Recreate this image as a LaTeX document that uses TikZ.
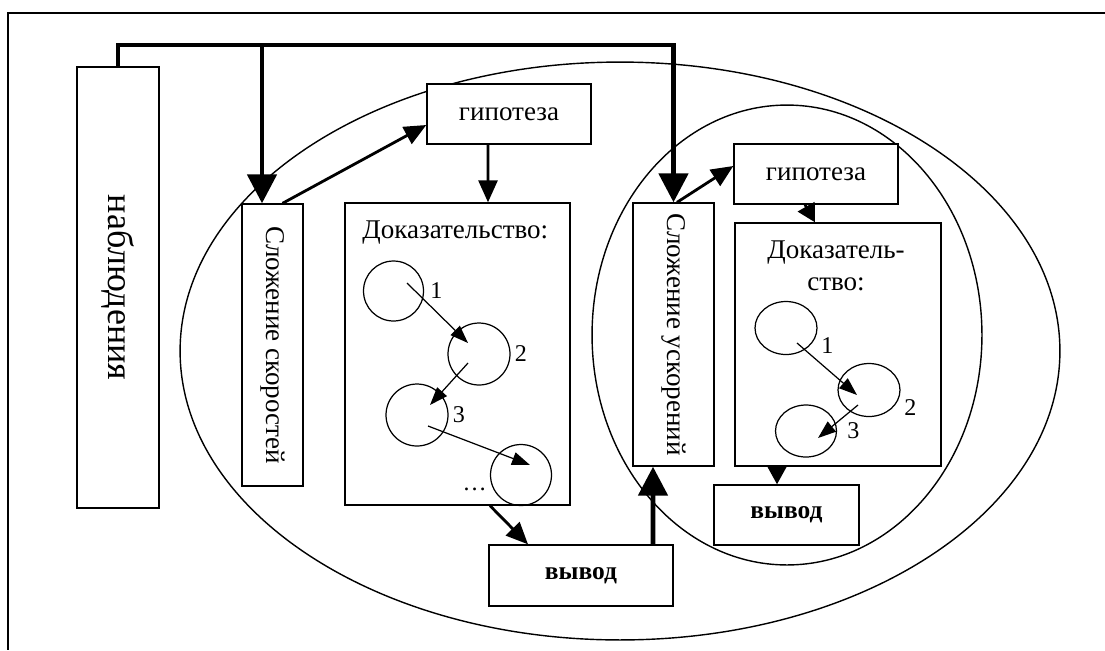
\documentclass[tikz,border=0pt]{standalone}
\usepackage{fontspec}
\setmainfont{Liberation Serif}
\usepackage{graphicx}
\usetikzlibrary{arrows.meta,positioning,calc,shapes.geometric}
\tikzset{
  box/.style={draw,fill=white,line width=0.8pt,inner sep=0pt,font=\fontsize{15.4}{18.2}\selectfont},
  res/.style={box,font=\fontsize{14.5}{16}\selectfont\bfseries},
  txt/.style={inner sep=0pt,font=\fontsize{15.4}{18.2}\selectfont},
  bub/.style={ellipse,draw,line width=0.7pt,inner sep=0pt,minimum width=1.2cm,minimum height=1.2cm},
  num/.style={inner sep=0pt,font=\fontsize{13.7}{16}\selectfont},
  arr/.style={line width=0.7pt,-{Triangle[length=0.36cm,width=0.26cm]}},
  sarr/.style={line width=1.6pt,-{Triangle[length=0.36cm,width=0.38cm]}},
  marr/.style={line width=1.6pt,-{Triangle[length=0.44cm,width=0.38cm]}},
  tarr/.style={line width=2.8pt,-{Triangle[length=0.58cm,width=0.58cm]}},
  ring/.style={line width=0.8pt},
}
\begin{document}
\begin{tikzpicture}[x=0.02cm,y=-0.02cm]
\useasboundingbox (0,0) rectangle (1105,650);
\draw[line width=1.1pt] (1105,13) -| (8,650);
% two nested ellipses behind the boxes
\draw[ring] (620,351) ellipse [x radius=8.8cm,y radius=5.78cm];
\draw[ring] (787,335) ellipse [x radius=3.9cm,y radius=4.6cm];

\node[box,minimum width=1.64cm,minimum height=8.82cm,font=\fontsize{20.5}{24}\selectfont] (obs) at (118,287.5) {\rotatebox{-90}{наблюдения}};
\node[box,minimum width=1.22cm,minimum height=5.64cm] (sumv) at (272.5,345) {\rotatebox{-90}{Сложение скоростей}};
\node[box,minimum width=3.28cm,minimum height=1.2cm] (hyp1) at (509,114) {гипотеза};
\node[box,minimum width=4.5cm,minimum height=6.04cm] (proof1) at (457.5,354) {};
\node[txt,anchor=base west] (proof1t) at (362,238) {Доказательство:};
\node[res,minimum width=3.68cm,minimum height=1.22cm] (concl1) at (581,575.5) {вывод};

\node[box,minimum width=1.62cm,minimum height=5.26cm] (suma) at (673.5,334.5) {\rotatebox{-90}{Сложение ускорений}};
\node[box,minimum width=3.28cm,minimum height=1.2cm] (hyp2) at (816,174) {гипотеза};
\node[box,minimum width=4.12cm,minimum height=4.86cm] (proof2) at (838,344.5) {};
\node[txt,align=center] (proof2t) at (836,266) {Доказатель-\\ство:};
\node[res,minimum width=2.9cm,minimum height=1.2cm] (concl2) at (786.5,515) {вывод};

% steps of the first proof
\node[bub,label={[num,label distance=0.12cm]0:1}] (c11) at (393.5,291) {};
\node[bub,minimum size=1.24cm,label={[num,label distance=0.08cm]0:2}] (c12) at (479,354) {};
\node[bub,minimum size=1.24cm,label={[num,label distance=0.08cm]0:3}] (c13) at (417,415) {};
\node[bub,minimum size=1.22cm,label={[num,label distance=0.1cm]200:…}] (c14) at (521,475) {};
\draw[arr] ($(c11)+(13.5,-8)$) -- ($(c12)+(-11,-11)$);
\draw[arr] ($(c12)+(-11,9)$) -- ($(c13)+(13,-10)$);
\draw[arr] ($(c13)+(11,11)$) -- ($(c14)+(9,-10)$);

% steps of the second proof
\node[bub,minimum width=1.24cm,minimum height=1.06cm,label={[num,label distance=0.1cm]-15:1}] (c21) at (786,328) {};
\node[bub,minimum width=1.24cm,minimum height=1.06cm,label={[num,label distance=0.1cm]-15:2}] (c22) at (869,390) {};
\node[bub,minimum width=1.22cm,minimum height=1.04cm,label={[num,label distance=0.2cm]0:3}] (c23) at (806,431) {};
\draw[arr] ($(c21)+(11,15)$) -- ($(c22)+(-12,5)$);
\draw[arr] ($(c22)+(-11,15)$) -- ($(c23)+(12,7)$);

% bus from observations
\coordinate (busL) at (262,45);
\coordinate (busR) at (673.5,45);
\draw[tarr] (obs.north) |- (busR) -- (suma.north);
\draw[tarr] (busL) -- (busL |- sumv.north);

\draw[marr] ([xshift=0.2cm]sumv.north) -- ([yshift=-0.22cm]hyp1.west);
\draw[marr] ([xshift=-0.42cm]hyp1.south) -- ([xshift=0.61cm]proof1.north);
\draw[marr] ([xshift=0.65cm]proof1.south) -- ([xshift=-1.06cm]concl1.north);
\draw[tarr] ([xshift=1.44cm]concl1.north) -- ([xshift=-0.41cm]suma.south);
\draw[marr] ([xshift=0.07cm]suma.north) -- ([yshift=0.16cm]hyp2.west);
\draw[sarr] ([xshift=-0.22cm]hyp2.south) -- ([xshift=-0.46cm]proof2.north);
\draw[sarr] ([xshift=-1.22cm]proof2.south) -- ([xshift=-0.19cm]concl2.north);
\end{tikzpicture}
\end{document}
